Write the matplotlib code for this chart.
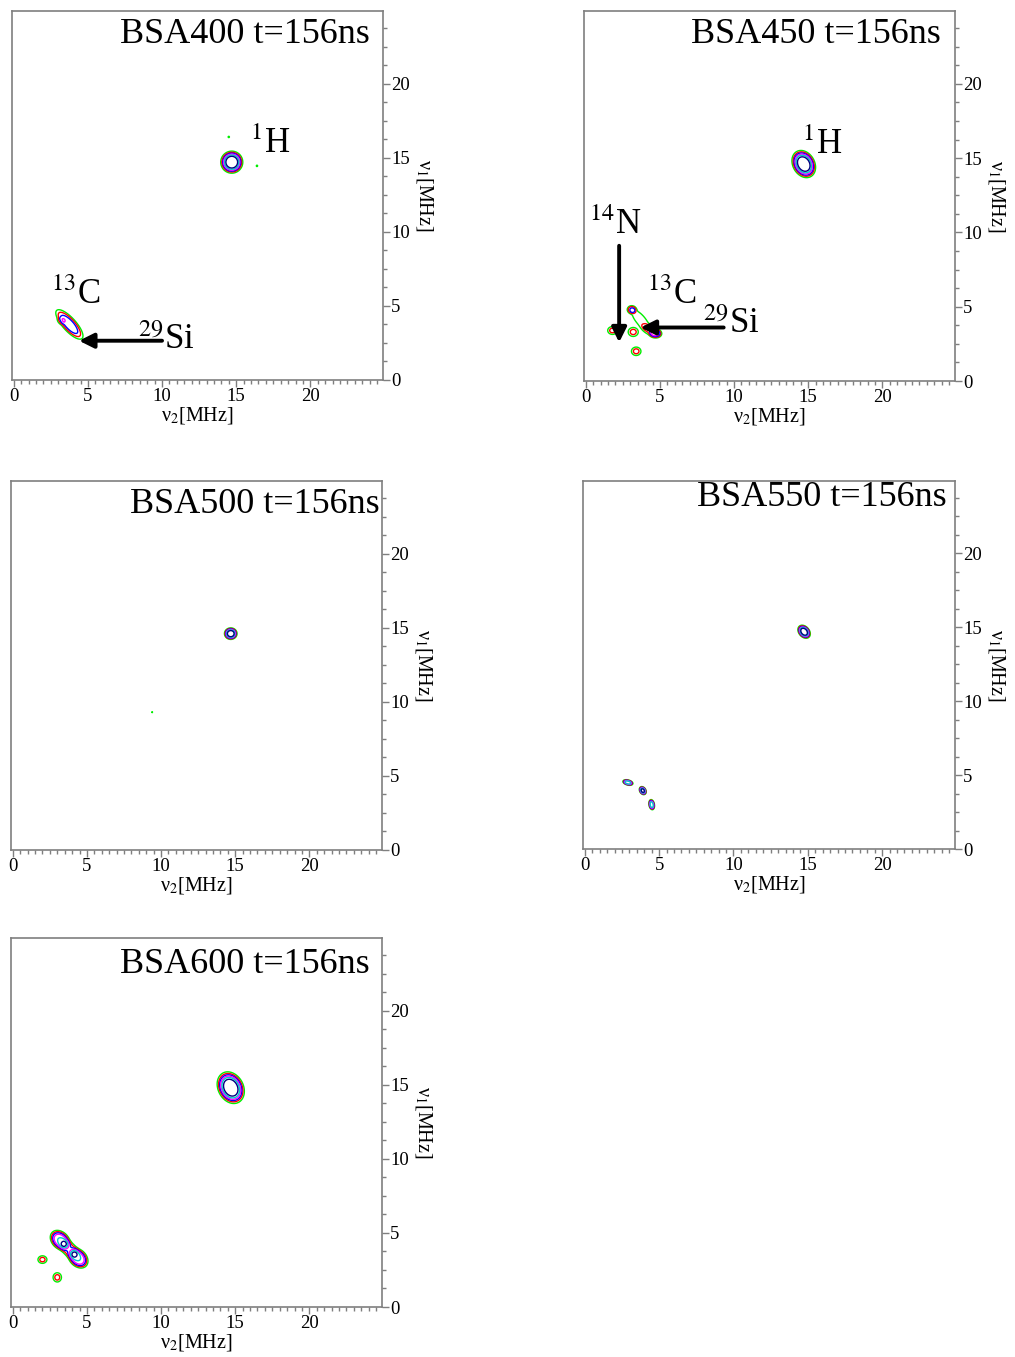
import numpy as np
import matplotlib
matplotlib.use("Agg")
import matplotlib.pyplot as plt
from matplotlib.ticker import MultipleLocator

plt.rcParams['font.family'] = ['Liberation Serif', 'DejaVu Serif']
plt.rcParams['mathtext.fontset'] = 'stix'

# ---- data: peaks (v2 centre, v1 centre, major width, minor width, angle deg, amplitude)
titles = ["BSA400 t=156ns", "BSA450 t=156ns", "BSA500 t=156ns",
          "BSA550 t=156ns", "BSA600 t=156ns"]

peaks_400 = [(14.7, 14.7, 0.63, 0.63, 0, 7.0),
             (14.5, 16.4, 0.07, 0.07, 0, 1.3),
             (16.4, 14.45, 0.07, 0.07, 0, 1.3),
             (3.75, 3.75, 1.2, 0.42, -48, 3.6),
             (3.2, 4.0, 0.3, 0.25, 0, 0.8)]
peaks_450 = [(14.7, 14.6, 0.82, 0.62, -60, 7.0),
             (3.1, 4.8, 0.3, 0.26, 0, 2.6),
             (4.7, 3.2, 0.38, 0.28, 0, 3.2),
             (3.7, 4.1, 1.0, 0.38, -50, 1.6),
             (4.4, 3.4, 0.7, 0.35, -25, 1.6),
             (3.2, 3.3, 0.36, 0.32, 0, 2.2),
             (1.8, 3.4, 0.34, 0.28, 0, 2.2),
             (3.4, 2.0, 0.34, 0.3, 0, 2.2)]
peaks_500 = [(14.7, 14.6, 0.36, 0.33, 0, 7.0),
             (9.4, 9.3, 0.05, 0.05, 0, 1.3)]
peaks_550 = [(14.75, 14.7, 0.42, 0.3, -50, 7.0),
             (2.9, 4.5, 0.3, 0.15, -15, 6.0),
             (3.9, 3.95, 0.25, 0.18, -60, 6.5),
             (4.5, 3.0, 0.3, 0.16, -80, 6.0)]
peaks_600 = [(14.7, 14.8, 0.95, 0.72, -62, 7.0),
             (3.2, 4.5, 0.68, 0.5, -45, 5.0),
             (4.4, 3.3, 0.68, 0.5, -45, 5.0),
             (3.8, 3.9, 0.7, 0.45, -45, 2.5),
             (2.0, 3.2, 0.32, 0.27, 0, 2.2),
             (3.0, 2.0, 0.3, 0.33, 0, 2.2)]
all_peaks = [peaks_400, peaks_450, peaks_500, peaks_550, peaks_600]

levels = [1, 2, 3, 4, 5, 6]
level_colors = ['#00ee00', '#ff0000', '#0000ff', '#ff00ff', '#00cccc', '#000080']

# annotations: (text, x, y) and arrows (tail, head)
labels = [
    [(r'$^{1}$H', 15.9, 15.3), (r'$^{13}$C', 2.5, 5.1), (r'$^{29}$Si', 8.4, 2.1)],
    [(r'$^{1}$H', 14.6, 15.3), (r'$^{13}$C', 4.1, 5.2), (r'$^{29}$Si', 7.9, 3.2),
     (r'$^{14}$N', 0.2, 9.9)],
    [], [], []]
arrows = [
    [((10.0, 2.65), (4.4, 2.65))],
    [((9.3, 3.6), (3.7, 3.6)), ((2.25, 9.1), (2.25, 2.6))],
    [], [], []]

# axes positions in pixels (left, top, right, bottom)
W, H = 1015, 1357
boxes = [(12, 11, 383, 380), (584, 11, 955, 381), (11, 481, 382, 850),
         (583, 481, 955, 849), (11, 938, 382, 1307)]
title_pos = [(370, 18), (941, 18), (380, 488), (947, 481), (370, 948)]

fig = plt.figure(figsize=(W / 100, H / 100), dpi=100)

gx = np.linspace(0, 25, 700)
X, Y = np.meshgrid(gx, gx)

for i in range(5):
    l, t, r, b = boxes[i]
    ax = fig.add_axes([l / W, 1 - b / H, (r - l) / W, (b - t) / H])
    Z = np.zeros_like(X)
    for (cx, cy, sa, sb, ang, amp) in all_peaks[i]:
        th = np.deg2rad(ang)
        u = (X - cx) * np.cos(th) + (Y - cy) * np.sin(th)
        v = -(X - cx) * np.sin(th) + (Y - cy) * np.cos(th)
        q = (u / sa) ** 2 + (v / sb) ** 2
        Z += amp * np.exp(-q ** 2)
    ax.contour(X, Y, Z, levels=levels, colors=level_colors, linewidths=1.0)

    ax.set_xlim(-0.12, 24.9)
    ax.set_ylim(0, 24.9)
    for s in ax.spines.values():
        s.set_color('#7f7f7f')
        s.set_linewidth(1.2)
    ax.xaxis.set_major_locator(MultipleLocator(5))
    ax.xaxis.set_minor_locator(MultipleLocator(0.5))
    ax.yaxis.set_major_locator(MultipleLocator(5))
    ax.yaxis.set_minor_locator(MultipleLocator(1.25))
    ax.yaxis.tick_right()
    ax.yaxis.set_label_position('right')
    ax.tick_params(which='both', direction='out', color='#7f7f7f', labelsize=13.5, pad=1)
    ax.tick_params(which='major', length=5, width=1)
    ax.tick_params(which='minor', length=3, width=1)
    ax.set_xlabel(r'ν$_2$[MHz]', fontsize=14.5, labelpad=0)
    ax.set_ylabel(r'ν$_1$[MHz]', fontsize=14.5, rotation=270, labelpad=18)

    tx, ty = title_pos[i]
    fig.text(tx / W, 1 - ty / H, titles[i], ha='right', va='top', fontsize=26)

    for (txt, x, y) in labels[i]:
        ax.text(x, y, txt, fontsize=25, ha='left', va='baseline')
    for (tail, head) in arrows[i]:
        ax.annotate('', xy=head, xytext=tail,
                    arrowprops=dict(arrowstyle='-|>', lw=2.8, color='black',
                                    mutation_scale=22, shrinkA=0, shrinkB=0))

fig.savefig('out.png', dpi=100)
